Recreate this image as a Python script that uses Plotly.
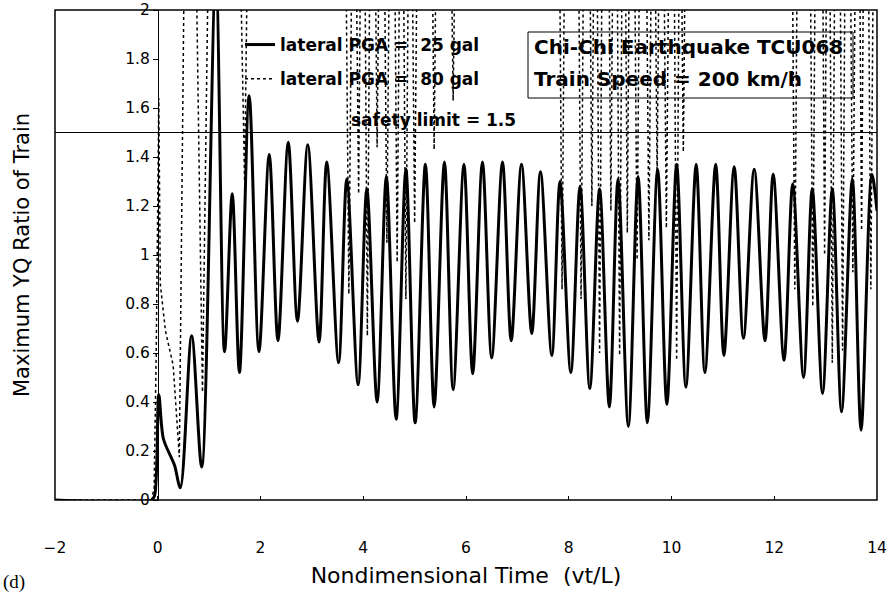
import plotly.graph_objects as go

# ---------------- data ----------------
x_tick_vals = [-2, 0, 2, 4, 6, 8, 10, 12, 14]
y_tick_vals = [0, 0.2, 0.4, 0.6, 0.8, 1.0, 1.2, 1.4, 1.6, 1.8, 2.0]
SAFETY_LIMIT = 1.5

series_25_name = "lateral PGA =\u00a0 25 gal"
series_80_name = "lateral PGA =\u00a0 80 gal"

# lateral PGA = 25 gal (solid)
pga25_x = [-2.0, -0.12, -0.06, 0.02, 0.11, 0.27, 0.33, 0.44, 0.66, 0.855,
           1.13, 1.30, 1.45, 1.59, 1.78, 1.97, 2.17, 2.34, 2.54, 2.72,
           2.92, 3.14, 3.29, 3.52, 3.68, 3.90, 4.07, 4.27, 4.45, 4.64,
           4.83, 5.01, 5.21, 5.38, 5.58, 5.75, 5.96, 6.13, 6.32, 6.50,
           6.71, 6.88, 7.08, 7.28, 7.45, 7.67, 7.83, 8.04, 8.22, 8.41,
           8.60, 8.79, 8.96, 9.16, 9.35, 9.53, 9.73, 9.91, 10.10, 10.28,
           10.48, 10.65, 10.86, 11.02, 11.22, 11.40, 11.61, 11.82, 11.98, 12.19,
           12.36, 12.57, 12.74, 12.94, 13.13, 13.31, 13.52, 13.69, 13.90, 14.0]
pga25_y = [0.0, 0.0, 0.02, 0.43, 0.25, 0.17, 0.14, 0.05, 0.67, 0.135,
           2.15, 0.605, 1.25, 0.52, 1.65, 0.605, 1.41, 0.65, 1.46, 0.73,
           1.45, 0.645, 1.38, 0.56, 1.31, 0.47, 1.27, 0.40, 1.32, 0.33,
           1.35, 0.315, 1.37, 0.38, 1.38, 0.45, 1.37, 0.515, 1.38, 0.58,
           1.38, 0.65, 1.37, 0.68, 1.34, 0.59, 1.30, 0.52, 1.28, 0.455,
           1.27, 0.38, 1.31, 0.30, 1.32, 0.315, 1.35, 0.39, 1.37, 0.46,
           1.37, 0.52, 1.37, 0.59, 1.36, 0.66, 1.35, 0.65, 1.33, 0.57,
           1.29, 0.50, 1.27, 0.435, 1.27, 0.36, 1.31, 0.285, 1.33, 1.18]

# lateral PGA = 80 gal (dotted) - values above 2 are off scale
pga80_x = [-2.0, -0.12, -0.07, -0.03, 0.02, 0.05, 0.15, 0.30, 0.42, 0.52,
           0.74, 0.87, 0.99,
           1.60, 1.69, 1.75,
           3.66, 3.72, 3.78, 3.86, 3.91, 3.95, 4.03, 4.08, 4.13,
           4.23, 4.27, 4.31, 4.41, 4.46, 4.51, 4.61, 4.66, 4.71,
           4.78, 4.83, 4.88, 4.95, 5.00, 5.05, 5.34, 5.38, 5.42,
           5.71, 5.75, 5.79,
           7.82, 7.87, 7.92, 8.19, 8.24, 8.29, 8.41, 8.45, 8.49,
           8.55, 8.60, 8.65, 8.78, 8.82, 8.86, 8.94, 8.99, 9.04,
           9.10, 9.14, 9.18, 9.28, 9.33, 9.38, 9.51, 9.56, 9.61,
           9.68, 9.72, 9.76, 9.85, 9.90, 9.95, 10.05, 10.10, 10.15,
           10.19, 10.23, 10.27,
           12.35, 12.40, 12.45, 12.70, 12.75, 12.80, 12.94, 12.98, 13.02,
           13.08, 13.13, 13.18, 13.28, 13.33, 13.38, 13.48, 13.53, 13.58,
           13.66, 13.70, 13.74, 13.83, 13.88, 13.93, 14.0]
pga80_y = [0.0, 0.0, 0.05, 0.60, 1.64, 0.88, 0.69, 0.55, 0.175, 2.3,
           2.3, 0.44, 2.3,
           2.3, 1.30, 2.3,
           2.3, 0.84, 2.3, 2.3, 1.25, 2.3, 2.3, 0.67, 2.3,
           2.3, 1.44, 2.3, 2.3, 1.05, 2.3, 2.3, 0.97, 2.3,
           2.3, 0.82, 2.3, 2.3, 1.13, 2.3, 2.3, 1.43, 2.3,
           2.3, 1.63, 2.3,
           2.3, 0.86, 2.3, 2.3, 0.82, 2.3, 2.3, 1.20, 2.3,
           2.3, 0.60, 2.3, 2.3, 1.18, 2.3, 2.3, 0.59, 2.3,
           2.3, 1.09, 2.3, 2.3, 0.98, 2.3, 2.3, 1.06, 2.3,
           2.3, 1.30, 2.3, 2.3, 1.11, 2.3, 2.3, 0.57, 2.3,
           2.3, 1.42, 2.3,
           2.3, 0.86, 2.3, 2.3, 0.79, 2.3, 2.3, 1.00, 2.3,
           2.3, 0.56, 2.3, 2.3, 0.61, 2.3, 2.3, 0.93, 2.3,
           2.3, 1.10, 2.3, 2.3, 0.86, 2.3, 2.3]

box_lines = ["Chi-Chi Earthquake TCU068", "Train Speed = 200 km/h"]
safety_text = "safety limit = 1.5"
x_title = "\u2007\u2007Nondimensional Time\u00a0 (vt/L)"
y_title = "Maximum YQ Ratio of Train"
panel_label = "(d)"

# ---------------- figure ----------------
SANS = "DejaVu Sans"
W, H = 892, 593
ML, MR, MT, MB = 55, 15, 10, 93
PW, PH = W - ML - MR, H - MT - MB


def px_x(px):
    return (px - ML) / PW


def px_y(py):
    return (H - MB - py) / PH


fig = go.Figure()
fig.add_trace(go.Scatter(
    x=pga25_x, y=pga25_y, mode="lines", name=series_25_name,
    legendgroup="a",
    line=dict(color="black", width=3, shape="spline", smoothing=0.9),
))
fig.add_trace(go.Scatter(
    x=pga80_x, y=pga80_y, mode="lines", name=series_80_name,
    legendgroup="b",
    line=dict(color="black", width=1.5, dash="dot"),
))

annotations = [
    dict(text=box_lines[0], xref="paper", yref="paper",
         x=px_x(532), y=px_y(47), xanchor="left", yanchor="middle",
         showarrow=False,
         font=dict(family=SANS, size=20, color="black", weight="bold")),
    dict(text=box_lines[1], xref="paper", yref="paper",
         x=px_x(532), y=px_y(79), xanchor="left", yanchor="middle",
         showarrow=False,
         font=dict(family=SANS, size=20, color="black", weight="bold")),
    dict(text=safety_text, x=5.36, y=SAFETY_LIMIT, xref="x", yref="y",
         xanchor="center", yanchor="bottom", yshift=1, showarrow=False,
         font=dict(family=SANS, size=17, color="black", weight="bold")),
    dict(text=panel_label, xref="paper", yref="paper",
         x=px_x(1), y=px_y(582), xanchor="left", yanchor="middle",
         showarrow=False,
         font=dict(family="Liberation Serif", size=19, color="black")),
]

fig.update_layout(
    width=W, height=H,
    margin=dict(l=ML, r=MR, t=MT, b=MB, autoexpand=False),
    paper_bgcolor="white", plot_bgcolor="white",
    font=dict(family=SANS, color="black"),
    showlegend=True,
    legend=dict(
        x=px_x(240), y=px_y(27), xanchor="left", yanchor="top",
        bgcolor="rgba(0,0,0,0)", borderwidth=0,
        font=dict(family=SANS, size=17, color="black", weight="bold"),
        tracegroupgap=9,
    ),
    xaxis=dict(
        range=[-2, 14], tickvals=x_tick_vals, automargin=False,
        showgrid=False, zeroline=False, showline=False,
        ticks="inside", ticklen=4, tickcolor="black",
        tickfont=dict(family=SANS, size=15.5, color="black"),
        ticklabelstandoff=36,
        title=dict(text=x_title, font=dict(family=SANS, size=22), standoff=12),
    ),
    yaxis=dict(
        range=[0, 2], tickvals=y_tick_vals, automargin=False,
        anchor="free", position=px_x(158),
        showgrid=False, zeroline=False,
        showline=True, linecolor="black", linewidth=1.2,
        ticks="outside", ticklen=5, tickcolor="black",
        tickfont=dict(family=SANS, size=15.5, color="black"),
        title=dict(text=y_title, font=dict(family=SANS, size=21), standoff=88),
    ),
    shapes=[
        dict(type="rect", xref="paper", yref="paper", x0=0, x1=1, y0=0, y1=1,
             line=dict(color="black", width=1.5), layer="above"),
        dict(type="line", xref="paper", yref="y", x0=0, x1=1,
             y0=SAFETY_LIMIT, y1=SAFETY_LIMIT,
             line=dict(color="black", width=1)),
        dict(type="rect", xref="paper", yref="paper",
             x0=px_x(528), x1=px_x(853), y0=px_y(98), y1=px_y(32),
             line=dict(color="black", width=1)),
    ],
    annotations=annotations,
)

fig.write_html("out.html")
